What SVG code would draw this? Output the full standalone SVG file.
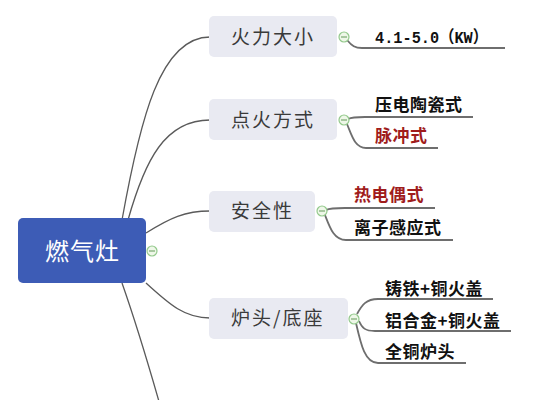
<svg xmlns="http://www.w3.org/2000/svg" width="542" height="400" viewBox="0 0 542 400">
<defs>
<style>
.root{fill:#3d5cb6}
.branch{fill:#e9eaf2}
.rt{font-family:"Noto Sans CJK SC","Noto Sans",sans-serif;font-size:24px;fill:#ffffff;letter-spacing:1px}
.bt{font-family:"Noto Sans CJK SC","Noto Sans",sans-serif;font-size:19px;fill:#3a3a3a;letter-spacing:2px}
.lt{font-family:"Noto Sans CJK SC","Noto Sans",sans-serif;font-size:17px;font-weight:bold;fill:#111111}
.mono{font-family:"Liberation Mono","Noto Sans CJK SC",monospace}
.red{fill:#a01c1c}
.c1{fill:none;stroke:#5a5a5a;stroke-width:1.3}
.c2{fill:none;stroke:#6e6e6e;stroke-width:1.8}
.tg circle{fill:#eef7e8;stroke:#93c98c;stroke-width:1.2}
.tg line{stroke:#7aa870;stroke-width:1.2}
</style>
</defs>
<rect width="542" height="400" fill="#ffffff"/>
<g id="connectors">
<path class="c1" d="M122 220 C140 120 160 37 210 37"/>
<path class="c1" d="M128 220 C145 160 165 120 210 120"/>
<path class="c1" d="M146 233 C170 218 185 211 210 211"/>
<path class="c1" d="M146 283 C170 305 185 318 210 318"/>
<path class="c1" d="M122 283 C135 320 150 370 160 405"/>
<path class="c2" d="M347 40 C352 46 355 48 362 48 L505 48"/>
<path class="c2" d="M348 119 C352 117 356 117 365 117 L473 117"/>
<path class="c2" d="M347 124 C352 136 355 148 366 148 L438 148"/>
<path class="c2" d="M326 210 C330 208 334 208 345 208 L435 208"/>
<path class="c2" d="M325 215 C330 228 334 240 346 240 L453 240"/>
<path class="c2" d="M357 314 C362 305 366 299 378 299 L493 299"/>
<path class="c2" d="M359 321 C362 328 365 331 375 331 L511 331"/>
<path class="c2" d="M356 323 C361 345 365 363 378 363 L466 363"/>
</g>
<g id="root">
<rect class="root" x="18" y="218" width="128" height="65" rx="5"/>
<text class="rt" x="45" y="260">燃气灶</text>
<g class="tg"><circle cx="152" cy="251" r="5"/><line x1="149" y1="251" x2="155" y2="251"/></g>
</g>
<g id="n-huoli">
<rect class="branch" x="209" y="16" width="128" height="41" rx="5"/>
<text class="bt" x="231" y="44">火力大小</text>
<g class="tg"><circle cx="344" cy="37" r="5"/><line x1="341" y1="37" x2="347" y2="37"/></g>
</g>
<g id="n-dianhuo">
<rect class="branch" x="209" y="99" width="128" height="41" rx="5"/>
<text class="bt" x="231" y="127">点火方式</text>
<g class="tg"><circle cx="344" cy="120" r="5"/><line x1="341" y1="120" x2="347" y2="120"/></g>
</g>
<g id="n-anquan">
<rect class="branch" x="209" y="191" width="106" height="41" rx="5"/>
<text class="bt" x="231" y="218">安全性</text>
<g class="tg"><circle cx="322" cy="211" r="5"/><line x1="319" y1="211" x2="325" y2="211"/></g>
</g>
<g id="n-lutou">
<rect class="branch" x="209" y="298" width="139" height="41" rx="5"/>
<text class="bt" x="231" y="325">炉头/底座</text>
<g class="tg"><circle cx="354" cy="319" r="5"/><line x1="351" y1="319" x2="357" y2="319"/></g>
</g>
<g id="l-kw"><text class="lt mono" x="375" y="43" font-size="17" textLength="113" lengthAdjust="spacingAndGlyphs">4.1-5.0（KW）</text></g>
<g id="l-yadian"><text class="lt" x="375" y="111" letter-spacing="0.5">压电陶瓷式</text></g>
<g id="l-maichong"><text class="lt red" x="375" y="142" letter-spacing="0.5">脉冲式</text></g>
<g id="l-redian"><text class="lt red" x="354" y="201" letter-spacing="0.5">热电偶式</text></g>
<g id="l-lizi"><text class="lt" x="354" y="234" letter-spacing="0.5">离子感应式</text></g>
<g id="l-zhutie"><text class="lt" x="385" y="295" letter-spacing="0.5">铸铁+铜火盖</text></g>
<g id="l-lvhejin"><text class="lt" x="385" y="327" letter-spacing="0.5">铝合金+铜火盖</text></g>
<g id="l-quantong"><text class="lt" x="385" y="358" letter-spacing="0.5">全铜炉头</text></g>
</svg>
